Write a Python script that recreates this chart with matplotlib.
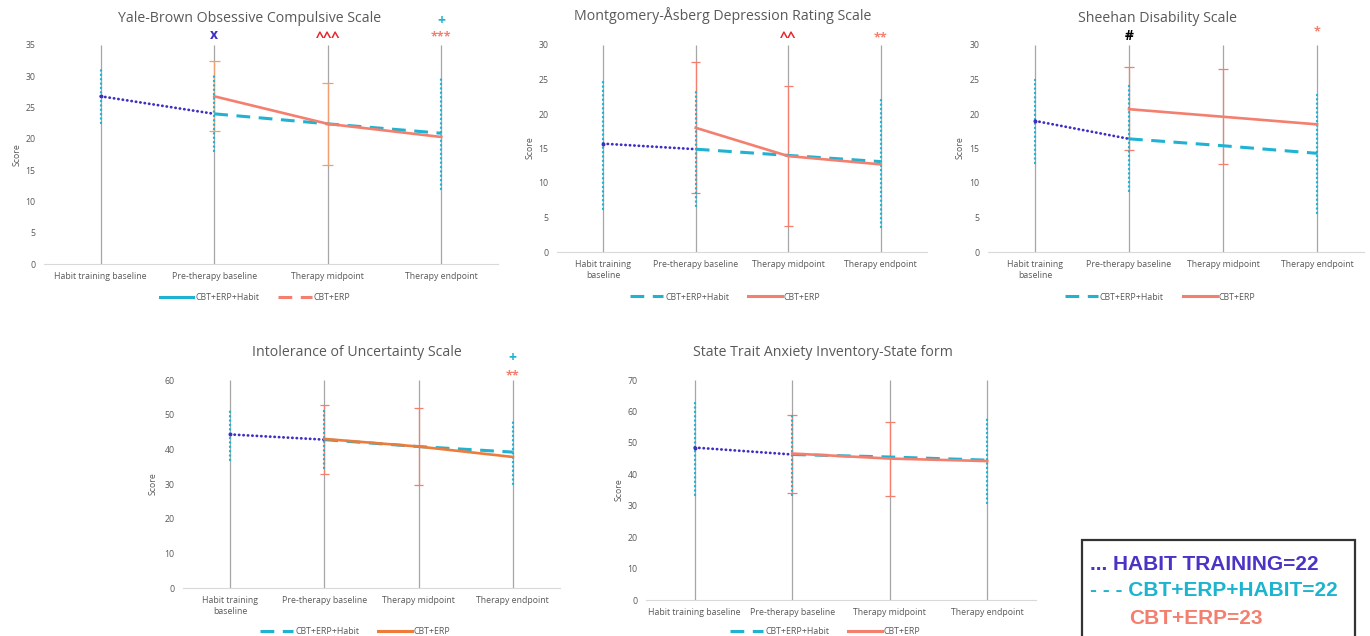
import numpy as np
import matplotlib
matplotlib.use("Agg")
import matplotlib.pyplot as plt
import matplotlib.patches as patches
from matplotlib.lines import Line2D

plt.rcParams['font.family'] = ['Open Sans', 'DejaVu Sans']

W, H = 1370, 636
nan = np.nan

categories = ['Habit training baseline', 'Pre-therapy baseline', 'Therapy midpoint', 'Therapy endpoint']
categories_wrap = ['Habit training\nbaseline', 'Pre-therapy baseline', 'Therapy midpoint', 'Therapy endpoint']

# habit training group: baseline -> pre-therapy
ybocs_habit = [26.8, 24.0]
madrs_habit = [15.7, 14.9]
sds_habit = [19.0, 16.4]
ius_habit = [44.3, 42.8]
stai_habit = [48.5, 46.3]

# CBT+ERP+Habit: pre-therapy, midpoint, endpoint
ybocs_combo = [24.0, 22.4, 20.9]
madrs_combo = [14.9, 14.0, 13.1]
sds_combo = [16.4, 15.4, 14.3]
ius_combo = [42.8, 40.8, 39.2]
stai_combo = [46.3, 45.5, 44.5]

# CBT+ERP: pre-therapy, midpoint, endpoint
ybocs_cbt = [26.8, 22.4, 20.3]
madrs_cbt = [18.0, 13.9, 12.7]
sds_cbt = [20.7, 19.6, 18.5]
ius_cbt = [43.0, 40.8, 37.8]
stai_cbt = [46.6, 45.0, 44.2]

# error bar ends (habit / combo group, dotted) over the 4 timepoints
ybocs_combo_lo = [22.6, 18.0, nan, 12.0]
ybocs_combo_hi = [31.0, 30.0, nan, 29.8]
madrs_combo_lo = [6.2, 6.7, nan, 3.6]
madrs_combo_hi = [25.1, 23.2, nan, 22.6]
sds_combo_lo = [12.9, 8.8, nan, 5.7]
sds_combo_hi = [25.0, 24.2, nan, 22.8]
ius_combo_lo = [36.8, 34.6, nan, 30.0]
ius_combo_hi = [51.8, 51.0, nan, 47.8]
stai_combo_lo = [33.5, 33.5, nan, 31.0]
stai_combo_hi = [62.8, 59.5, nan, 58.0]

# error bar ends (CBT+ERP group, solid)
ybocs_cbt_lo = [nan, 21.2, 15.8, nan]
ybocs_cbt_hi = [nan, 32.4, 29.0, nan]
madrs_cbt_lo = [nan, 8.5, 3.8, nan]
madrs_cbt_hi = [nan, 27.6, 24.0, nan]
sds_cbt_lo = [nan, 14.8, 12.7, nan]
sds_cbt_hi = [nan, 26.8, 26.5, nan]
ius_cbt_lo = [nan, 32.8, 29.8, nan]
ius_cbt_hi = [nan, 52.8, 51.8, nan]
stai_cbt_lo = [nan, 34.0, 33.2, nan]
stai_cbt_hi = [nan, 58.8, 56.5, nan]

PURPLE = '#3d2ec4'
CYAN = '#1fb3d1'
SALMON = '#f47f6e'
ORANGE = '#ee7b3a'
GRAY = '#595959'


def fx(px):
    return px / W


def fy(py):
    return 1 - py / H


def panel(box, title, title_xy, score_xy, legend_xy, ymax, ystep, labels,
          habit, combo, cbt, combo_lo, combo_hi, cbt_lo, cbt_hi,
          cbt_color, err_color, legend_swap=False, marks=()):
    x0, x1, yb, yt = box
    ax = fig.add_axes([fx(x0), fy(yb), fx(x1 - x0), (yb - yt) / H])
    ax.set_xlim(-0.5, 3.5)
    ax.set_ylim(0, ymax)
    ax.set_yticks(np.arange(0, ymax + 1, ystep))
    ax.set_xticks(range(4))
    ax.set_xticklabels(labels, fontsize=6.3, color=GRAY)
    ax.tick_params(axis='both', length=0, labelsize=6.3, labelcolor=GRAY)
    ax.tick_params(axis='y', pad=6)
    ax.tick_params(axis='x', pad=6)
    for s in ['top', 'right', 'left']:
        ax.spines[s].set_visible(False)
    ax.spines['bottom'].set_color('#d9d9d9')
    ax.vlines(range(4), 0, ymax, color='#a6a6a6', lw=0.9, zorder=1)

    # CBT+ERP error bars (thin, capped)
    for i in range(4):
        if not np.isnan(cbt_lo[i]):
            ax.vlines(i, cbt_lo[i], cbt_hi[i], color=err_color, lw=0.9, zorder=2)
            ax.hlines([cbt_lo[i], cbt_hi[i]], i - 0.05, i + 0.05, color=err_color, lw=0.9, zorder=2)
    # habit / combo error bars (dotted)
    for i in range(4):
        if not np.isnan(combo_lo[i]):
            ax.plot([i, i], [combo_lo[i], combo_hi[i]], color=CYAN, lw=1.7,
                    ls=(0, (0.1, 1.75)), dash_capstyle='round', zorder=3)

    ax.plot([0, 1], habit, color=PURPLE, lw=2, ls=(0, (0.1, 1.5)),
            dash_capstyle='round', zorder=4)
    ax.plot([1, 2, 3], combo, color=CYAN, lw=2.2, ls=(0, (4.5, 2.8)), zorder=4)
    ax.plot([1, 2, 3], cbt, color=cbt_color, lw=1.9, zorder=5)
    ax.plot([0], habit[:1], 'o', color=PURPLE, ms=1.8, zorder=6)

    for xi, yi, txt, col, fs in marks:
        ax.text(xi, yi, txt, color=col, fontsize=fs, fontweight='bold',
                ha='center', va='center', clip_on=False, zorder=7)

    fig.text(fx(title_xy[0]), fy(title_xy[1]), title, fontsize=10.2, color=GRAY,
             ha='center', va='center')
    fig.text(fx(score_xy[0]), fy(score_xy[1]), 'Score', fontsize=6.3, color=GRAY,
             rotation=90, ha='center', va='center')

    if legend_swap:
        handles = [Line2D([], [], color=CYAN, lw=2.2),
                   Line2D([], [], color=cbt_color, lw=2.2, ls=(0, (4.5, 2.8)))]
    else:
        handles = [Line2D([], [], color=CYAN, lw=2.2, ls=(0, (4.5, 2.8))),
                   Line2D([], [], color=cbt_color, lw=2.2)]
    fig.legend(handles, ['CBT+ERP+Habit', 'CBT+ERP'], loc='center',
               bbox_to_anchor=(fx(legend_xy[0]), fy(legend_xy[1])),
               ncol=2, frameon=False, fontsize=6.3, labelcolor=GRAY,
               handlelength=3.8, handletextpad=0.2, columnspacing=2.2)
    return ax


fig = plt.figure(figsize=(13.7, 6.36), dpi=100)

panel((44, 498, 264, 45), 'Yale-Brown Obsessive Compulsive Scale', (250, 19), (17, 155), (255, 298),
      35, 5, categories, ybocs_habit, ybocs_combo, ybocs_cbt,
      ybocs_combo_lo, ybocs_combo_hi, ybocs_cbt_lo, ybocs_cbt_hi,
      SALMON, '#f0a070', legend_swap=True,
      marks=[(1, 36.6, 'x', PURPLE, 10), (2, 36.1, '^^^', '#e8262c', 11),
             (3, 36.3, '***', SALMON, 9), (3, 38.9, '+', CYAN, 10)])

panel((557, 927, 252, 45), 'Montgomery-Åsberg Depression Rating Scale', (723, 16), (530, 148), (725, 297),
      30, 5, categories_wrap, madrs_habit, madrs_combo, madrs_cbt,
      madrs_combo_lo, madrs_combo_hi, madrs_cbt_lo, madrs_cbt_hi,
      SALMON, SALMON,
      marks=[(2, 31.0, '^^', '#e8262c', 11), (3, 31.0, '**', SALMON, 9)])

panel((988, 1364, 252, 45), 'Sheehan Disability Scale', (1158, 19), (960, 148), (1160, 297),
      30, 5, categories_wrap, sds_habit, sds_combo, sds_cbt,
      sds_combo_lo, sds_combo_hi, sds_cbt_lo, sds_cbt_hi,
      SALMON, SALMON,
      marks=[(1, 31.3, '#', 'black', 10), (3, 31.9, '*', SALMON, 9)])

panel((183, 560, 588, 380), 'Intolerance of Uncertainty Scale', (357, 353), (153, 484), (355, 632),
      60, 10, categories_wrap, ius_habit, ius_combo, ius_cbt,
      ius_combo_lo, ius_combo_hi, ius_cbt_lo, ius_cbt_hi,
      ORANGE, SALMON,
      marks=[(3, 66.3, '+', CYAN, 10), (3, 61.1, '**', SALMON, 9)])

panel((646, 1036, 600, 380), 'State Trait Anxiety Inventory-State form', (823, 353), (619, 490), (825, 632),
      70, 10, categories, stai_habit, stai_combo, stai_cbt,
      stai_combo_lo, stai_combo_hi, stai_cbt_lo, stai_cbt_hi,
      SALMON, SALMON)

# group size key box
fig.patches.append(patches.Rectangle((fx(1082), fy(640)), fx(1355 - 1082), (640 - 540) / H,
                                     transform=fig.transFigure, facecolor='white',
                                     edgecolor='#333333', lw=1.6))
fig.text(fx(1090), fy(564), '... HABIT TRAINING=22', color='#4a33c6', fontsize=15,
         fontweight='bold', family='Liberation Sans', va='center')
fig.text(fx(1090), fy(591), '- - - CBT+ERP+HABIT=22', color='#1db4cf', fontsize=15,
         fontweight='bold', family='Liberation Sans', va='center')
fig.text(fx(1129), fy(618), 'CBT+ERP=23', color=SALMON, fontsize=15,
         fontweight='bold', family='Liberation Sans', va='center')

fig.savefig('out.png', dpi=100)
